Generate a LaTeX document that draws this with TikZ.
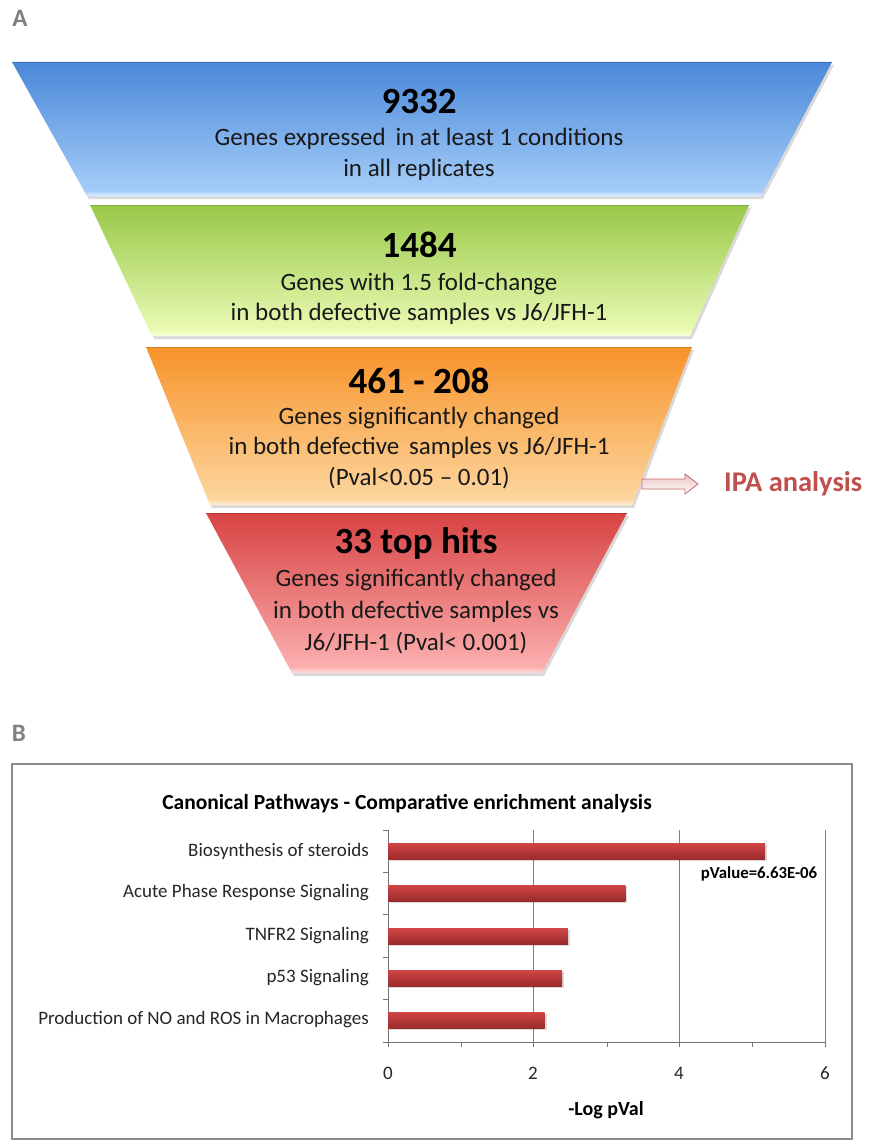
\documentclass[tikz,border=0pt]{standalone}
\usepackage{fontspec}
\setmainfont{Carlito}
\usetikzlibrary{calc}
\definecolor{fbtop}{HTML}{4A88D8}\definecolor{fbbot}{HTML}{A8CFFA}\definecolor{fbstrip}{HTML}{E4F2FF}
\definecolor{fgtop}{HTML}{98C848}\definecolor{fgbot}{HTML}{EDFDB8}\definecolor{fgstrip}{HTML}{F8FFE0}
\definecolor{fotop}{HTML}{F7932A}\definecolor{fobot}{HTML}{FDD8A2}\definecolor{fostrip}{HTML}{FFF0D8}
\definecolor{frtop}{HTML}{D84343}\definecolor{frbot}{HTML}{FDB3B3}\definecolor{frstrip}{HTML}{FFE2E2}
\definecolor{ipared}{HTML}{C0504D}
\definecolor{bartop}{HTML}{D04545}\definecolor{barbot}{HTML}{9C2B2B}
\definecolor{labgray}{HTML}{808080}
\newcommand\funnel[8]{%
  \coordinate (#1-tl) at (#2,#4);
  \coordinate (#1-tr) at (#3,#4);
  \coordinate (#1-bl) at (#5,#7);
  \coordinate (#1-br) at (#6,#7);
  \fill[black,opacity=0.15] ([shift={(2,3)}]#1-tl) -- ([shift={(2,3)}]#1-tr) -- ([shift={(2,3)}]#1-br) -- ([shift={(2,3)}]#1-bl) -- cycle;
  \shade[top color=#8top, bottom color=#8bot] (#1-tl) -- (#1-tr) -- (#1-br) -- (#1-bl) -- cycle;
  \shade[top color=#8bot, bottom color=#8strip] ($(#1-tl)!0.965!(#1-bl)$) -- ($(#1-tr)!0.965!(#1-br)$) -- (#1-br) -- (#1-bl) -- cycle;
  \draw[#8top!85!black, line width=0.6] (#1-tl) -- (#1-tr);
}
\begin{document}
\begin{tikzpicture}[x=1pt,y=-1pt,
  num/.style={font=\bfseries\fontsize{37}{40}\selectfont, inner sep=0pt, text=black},
  desc/.style={font=\fontsize{25}{28}\selectfont, inner sep=0pt, text=black!90},
  panel/.style={font=\bfseries\fontsize{25}{28}\selectfont, text=labgray, inner sep=0pt},
  cat/.style={font=\fontsize{19}{22}\selectfont, anchor=east, inner sep=0pt, text=black!85},
  tick/.style={font=\fontsize{19}{22}\selectfont, inner sep=0pt, text=black!85},
  grid/.style={draw=black!50, line width=0.8},
  axis/.style={draw=black!55, line width=0.8},
  bar/.style={top color=bartop, bottom color=barbot}]
\useasboundingbox (0,0) rectangle (868,1142);
\fill[white] (0,0) rectangle (868,1142);

% Panel A
\node[panel] (A) at (20,18) {A};
\funnel{f1}{12}{832}{62}{87}{761}{196}{fb}
\funnel{f2}{90}{749}{205}{152}{690}{336}{fg}
\funnel{f3}{146}{692}{347}{210}{632}{505}{fo}
\funnel{f4}{206}{627}{513}{292}{542}{673}{fr}

\node[num] (n1) at (419,101) {9332};
\node[desc] (d1a) at (419,139) {Genes expressed\, in at least 1 conditions};
\node[desc] (d1b) at (419,170) {in all replicates};

\node[num] (n2) at (419,245) {1484};
\node[desc] (d2a) at (419,284) {Genes with 1.5 fold-change};
\node[desc] (d2b) at (419,314) {in both defective samples vs J6/JFH-1};

\node[num] (n3) at (419,381) {461 - 208};
\node[desc] (d3a) at (419,418) {Genes significantly changed};
\node[desc] (d3b) at (419,448) {in both defective\, samples vs J6/JFH-1};
\node[desc] (d3c) at (419,478) {(Pval<0.05 -- 0.01)};

\node[num] (n4) at (416,543) {33 top hits};
\node[desc] (d4a) at (416,580) {Genes significantly changed};
\node[desc] (d4b) at (416,612) {in both defective samples vs};
\node[desc] (d4c) at (416,643) {J6/JFH-1 (Pval< 0.001)};

\node[font=\bfseries\fontsize{28.5}{32}\selectfont, text=ipared, anchor=west, inner sep=0pt] (ipa) at (724,484) {IPA analysis};
\coordinate (arrS) at (642,484);
\coordinate (arrE) at ($(ipa.west)+(-26,0)$);
\shade[top color=ipared!35, bottom color=white, draw=ipared!85, line width=0.8]
  ($(arrS)+(0,-5)$) -- ($(arrE)+(-13,-5)$) -- ($(arrE)+(-13,-10)$) -- (arrE)
  -- ($(arrE)+(-13,10)$) -- ($(arrE)+(-13,5)$) -- ($(arrS)+(0,5)$) -- cycle;

% Panel B
\node[panel] (B) at (19,733) {B};
\draw[draw=black!45, line width=1.2] (12,764) rectangle (852,1139);
\node[font=\bfseries\fontsize{21.5}{24}\selectfont, inner sep=0pt] (title) at (407,804) {Canonical Pathways - Comparative enrichment analysis};

\foreach \xx in {533,679,825} \draw[grid] (\xx,830) -- (\xx,1042);
\draw[axis] (388,830) -- (388,1042) -- (825,1042);
\foreach \yy in {830,872,914,957,999,1042} \draw[axis] (383,\yy) -- (388,\yy);
\foreach \xx in {388,461,533,607,679,752,825} \draw[axis] (\xx,1042) -- (\xx,1047);

\foreach \v/\yy/\lab [count=\i] in {5.18/851/Biosynthesis of steroids, 3.26/893/Acute Phase Response Signaling, 2.47/936/TNFR2 Signaling, 2.39/978/p53 Signaling, 2.15/1020/Production of NO and ROS in Macrophages}{
  \fill[black,opacity=0.15] (390,\yy-6) rectangle (390+72.8*\v,\yy+10);
  \shade[bar] (388,\yy-8) rectangle (388+72.8*\v,\yy+8);
  \node[cat] (c\i) at (369,\yy) {\lab};
}
\foreach \t/\xx in {0/388,2/533,4/679,6/825} \node[tick] (t\t) at (\xx,1073) {\t};
\node[font=\bfseries\fontsize{20}{23}\selectfont, inner sep=0pt] (xlab) at (606,1110) {-Log pVal};
\node[font=\bfseries\fontsize{16.8}{19}\selectfont, inner sep=0pt] (pv) at (759,874) {pValue=6.63E-06};
\end{tikzpicture}
\end{document}
